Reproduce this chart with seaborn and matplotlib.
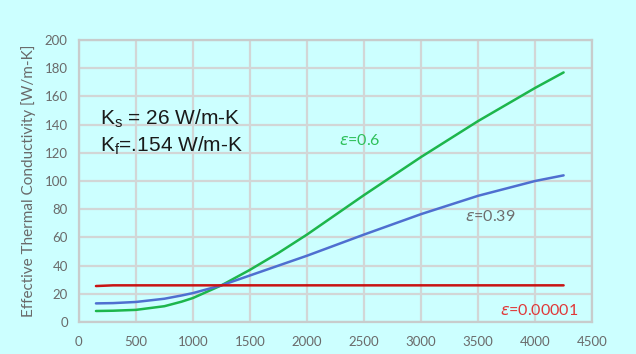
import matplotlib
matplotlib.use("Agg")
import matplotlib.pyplot as plt
import seaborn as sns
import pandas as pd

# Temperature-like x values and effective conductivity for three porosities
x_vals = [150, 300, 500, 750, 900, 1000, 1250, 1500, 1750, 2000, 2500, 3000, 3500, 4000, 4250]
k_eps_06 = [7.8, 8.0, 8.6, 11.2, 14.4, 17.0, 26.0, 37.0, 49.0, 62.0, 90.0, 117.0, 142.5, 166.0, 177.0]
k_eps_039 = [13.2, 13.4, 14.2, 16.5, 18.8, 20.5, 26.0, 33.0, 40.0, 47.0, 62.0, 76.5, 89.5, 100.0, 104.0]
k_eps_1e5 = [25.5, 26.0, 26.0, 26.0, 26.0, 26.0, 26.0, 26.0, 26.0, 26.0, 26.0, 26.0, 26.0, 26.0, 26.0]

x_ticks = list(range(0, 4501, 500))
y_ticks = list(range(0, 201, 20))

series_labels = ["ε=0.6", "ε=0.39", "ε=0.00001"]
label_texts = [r"$\varepsilon$=0.6", r"$\varepsilon$=0.39", r"$\varepsilon$=0.00001"]

bg = "#CCFFFF"
grid_c = "#D2D6D6"

sns.set_theme(style="whitegrid")
plt.rcParams["font.family"] = ["Lato", "DejaVu Sans"]
plt.rcParams["mathtext.fontset"] = "dejavusans"

fig = plt.figure(figsize=(6.36, 3.54), dpi=100, facecolor=bg)
ax = fig.add_axes([0.124, 0.0904, 0.807, 0.7966])
ax.set_facecolor(bg)

n = len(x_vals)
df = pd.DataFrame({
    "x": x_vals * 3,
    "k": k_eps_06 + k_eps_039 + k_eps_1e5,
    "series": [series_labels[0]] * n + [series_labels[1]] * n + [series_labels[2]] * n,
})
palette = {series_labels[0]: "#1DB64C", series_labels[1]: "#4F6FD0", series_labels[2]: "#C81414"}
sns.lineplot(data=df, x="x", y="k", hue="series", palette=palette, linewidth=1.8,
             legend=False, ax=ax, sort=False)

ax.set_xlim(0, 4500)
ax.set_ylim(0, 200)
ax.set_xticks(x_ticks)
ax.set_yticks(y_ticks)
ax.grid(True, color=grid_c, linewidth=1.6)
ax.set_axisbelow(True)
for s in ax.spines.values():
    s.set_color("#C8CCCC")
    s.set_linewidth(1.6)
ax.tick_params(axis="both", labelsize=9.5, colors="#6A6A6A", length=3, width=1.2)
ax.tick_params(axis="x", color=grid_c, pad=7)
ax.tick_params(axis="y", length=0, pad=8)
ax.set_xlabel("")
ax.set_ylabel("Effective Thermal Conductivity [W/m-K]", fontsize=11, color="#6A6A6A",
              labelpad=6)

# Material constants
const_font = ["Liberation Sans", "DejaVu Sans"]
ax.text(185, 144, "K$_\\mathregular{s}$ = 26 W/m-K", fontsize=15, color="#1A1A1A",
        va="center", ha="left", family=const_font)
ax.text(185, 125, "K$_\\mathregular{f}$=.154 W/m-K", fontsize=15, color="#1A1A1A",
        va="center", ha="left", family=const_font)

# Curve labels
ax.text(2460, 128.6, label_texts[0], fontsize=11.5, color="#2EC05A", ha="center", va="center")
ax.text(3610, 74.7, label_texts[1], fontsize=11.5, color="#6E6E6E", ha="center", va="center")
ax.text(4031, 8.0, label_texts[2], fontsize=11.5, color="#E03838", ha="center", va="center")

fig.savefig("out.png", dpi=100, facecolor=bg)
